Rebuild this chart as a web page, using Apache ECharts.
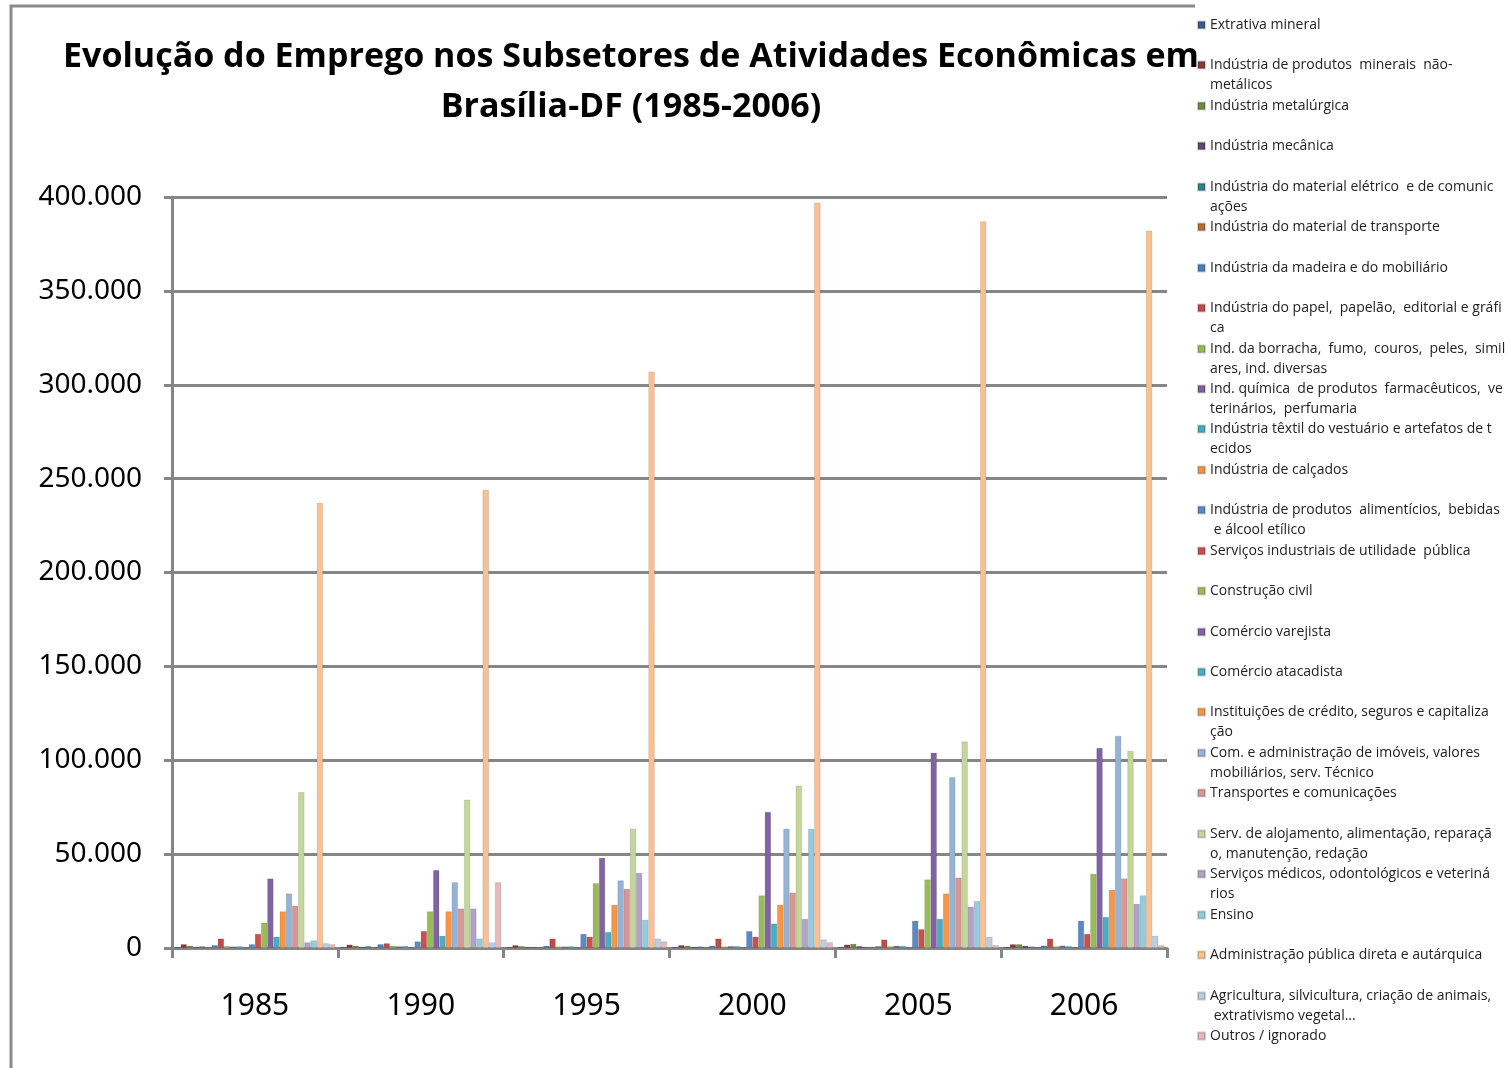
<!doctype html>
<html>
<head>
  <meta charset="utf-8">
  <title>Emprego Brasília-DF</title>
  <script src="https://cdn.jsdelivr.net/npm/echarts@6/dist/echarts.min.js"></script>
  <style>
    html, body { margin: 0; padding: 0; background: #fff; }
    #main { width: 1510px; height: 1068px; }
  </style>
</head>
<body>
<div id="main"></div>
<script>
var categories = ['1985', '1990', '1995', '2000', '2005', '2006'];

// rótulos da legenda, quebrados como no original
var legendLabels = [
  'Extrativa mineral',
  'Indústria de produtos  minerais  não-\nmetálicos',
  'Indústria metalúrgica',
  'Indústria mecânica',
  'Indústria do material elétrico  e de comunic\nações',
  'Indústria do material de transporte',
  'Indústria da madeira e do mobiliário',
  'Indústria do papel,  papelão,  editorial e gráfi\nca',
  'Ind. da borracha,  fumo,  couros,  peles,  simil\nares, ind. diversas',
  'Ind. química  de produtos  farmacêuticos,  ve\nterinários,  perfumaria',
  'Indústria têxtil do vestuário e artefatos de t\necidos',
  'Indústria de calçados',
  'Indústria de produtos  alimentícios,  bebidas\n e álcool etílico',
  'Serviços industriais de utilidade  pública',
  'Construção civil',
  'Comércio varejista',
  'Comércio atacadista',
  'Instituições de crédito, seguros e capitaliza\nção',
  'Com. e administração de imóveis, valores \nmobiliários, serv. Técnico',
  'Transportes e comunicações',
  'Serv. de alojamento, alimentação, reparaçã\no, manutenção, redação',
  'Serviços médicos, odontológicos e veteriná\nrios',
  'Ensino',
  'Administração pública direta e autárquica',
  'Agricultura, silvicultura, criação de animais,\n extrativismo vegetal...',
  'Outros / ignorado'
];
var seriesNames = legendLabels.map(function (s) { return s.replace('\n', ''); });

var colors = [
  '#385D8A', '#8C3836', '#71893F', '#5C4776', '#357D91', '#B66D31',
  '#4A7EBB', '#BE4B48', '#98B954', '#7D60A0', '#46AAC5', '#F69240',
  '#5A8AC6', '#C9504C', '#9BBB59', '#8064A2', '#4BACC6', '#F79646',
  '#95B3D7', '#D99694', '#C3D69B', '#B3A2C7', '#93CDDD', '#FAC090',
  '#B9CDE5', '#E6B9B8'
];

// empregados por subsetor, um array por ano (mesma ordem da legenda)
var v1985 = [600, 2000, 1200, 600, 900, 500, 1500, 5000, 1000, 800, 900, 300, 2000, 7500, 13500, 37000, 6000, 19500, 29000, 22500, 83000, 3000, 4000, 237000, 2500, 2000];
var v1990 = [600, 1800, 1200, 700, 1000, 500, 2000, 2500, 1200, 900, 1100, 300, 3500, 9000, 19500, 41500, 6500, 19500, 35000, 21000, 79000, 21000, 5000, 244000, 3000, 35000];
var v1995 = [600, 1500, 1000, 600, 700, 400, 1200, 5000, 800, 800, 900, 200, 7500, 6000, 34500, 48000, 8500, 23000, 36000, 31500, 63500, 40000, 15000, 307000, 5000, 3500];
var v2000 = [600, 1500, 1200, 700, 800, 500, 1200, 5000, 800, 1000, 1000, 200, 9000, 6000, 28000, 72500, 13000, 23000, 63500, 29500, 86500, 15500, 63500, 397000, 4500, 3000];
var v2005 = [600, 1800, 2200, 1000, 700, 600, 1000, 4500, 900, 1200, 1100, 300, 14500, 10000, 36500, 104000, 15500, 29000, 91000, 37500, 110000, 22000, 25000, 387000, 6000, 1500];
var v2006 = [600, 2000, 2000, 1200, 800, 500, 1300, 5000, 900, 1300, 1000, 300, 14500, 7500, 39500, 106500, 16500, 31000, 113000, 37000, 105000, 23500, 28000, 382000, 6500, 1500];

var years = [v1985, v1990, v1995, v2000, v2005, v2006];

function fmt(v) {
  return String(v).replace(/\B(?=(\d{3})+(?!\d))/g, '.');
}

var series = seriesNames.map(function (name, i) {
  return {
    name: name,
    type: 'bar',
    barGap: '0%',
    barCategoryGap: '3%',
    data: years.map(function (y) { return y[i]; }),
    itemStyle: {
      color: colors[i],
      borderColor: 'rgba(0,0,0,0.18)',
      borderWidth: 0.6
    }
  };
});

// uma legenda por item, com passo fixo como no Excel;
// itens de duas linhas ganham uma linha vazia em cima para o ícone ficar na 1a linha
var LH = 20;
var legends = seriesNames.map(function (name, i) {
  var twoLines = legendLabels[i].indexOf('\n') >= 0;
  var h = twoLines ? LH * 3 : LH;
  var cy = 25 + i * 40.44;
  return {
    data: [name],
    orient: 'vertical',
    left: 1197,
    top: Math.round(cy - h / 2),
    padding: 0,
    itemWidth: 7,
    itemHeight: 7,
    icon: 'rect',
    formatter: function () { return twoLines ? ' \n' + legendLabels[i] : legendLabels[i]; },
    textStyle: {
      fontFamily: 'Open Sans',
      fontSize: 14,
      color: '#222',
      lineHeight: LH
    }
  };
});

var chart = echarts.init(document.getElementById('main'));
chart.setOption({
  animation: false,
  backgroundColor: '#fff',
  color: colors,
  title: {
    text: 'Evolução do Emprego nos Subsetores de Atividades Econômicas em\nBrasília-DF (1985-2006)',
    left: 626,
    textAlign: 'center',
    top: 27,
    textStyle: {
      fontFamily: 'Open Sans',
      fontWeight: 'bold',
      fontSize: 34,
      lineHeight: 50,
      color: '#000'
    }
  },
  legend: legends,
  grid: {
    left: 172,
    right: 343,
    top: 197,
    bottom: 120,
    containLabel: false
  },
  xAxis: {
    type: 'category',
    data: categories,
    axisLine: { lineStyle: { color: '#868686', width: 3 } },
    axisTick: { show: true, length: 10, lineStyle: { color: '#868686', width: 3 } },
    axisLabel: {
      margin: 43,
      fontFamily: 'Noto Sans',
      fontSize: 30,
      color: '#000'
    }
  },
  yAxis: {
    type: 'value',
    min: 0,
    max: 400000,
    interval: 50000,
    axisLine: { show: true, lineStyle: { color: '#868686', width: 3 } },
    axisTick: { show: true, length: 8, lineStyle: { color: '#868686', width: 3 } },
    splitLine: { lineStyle: { color: '#868686', width: 3 } },
    axisLabel: {
      margin: 30,
      fontFamily: 'Noto Sans',
      fontSize: 28,
      color: '#000',
      formatter: fmt
    }
  },
  graphic: [
    {
      type: 'polyline',
      shape: { points: [[11, 1068], [11, 6], [1195, 6]] },
      style: { stroke: '#8a8a8a', lineWidth: 3, fill: null }
    }
  ],
  series: series
});
</script>
</body>
</html>
